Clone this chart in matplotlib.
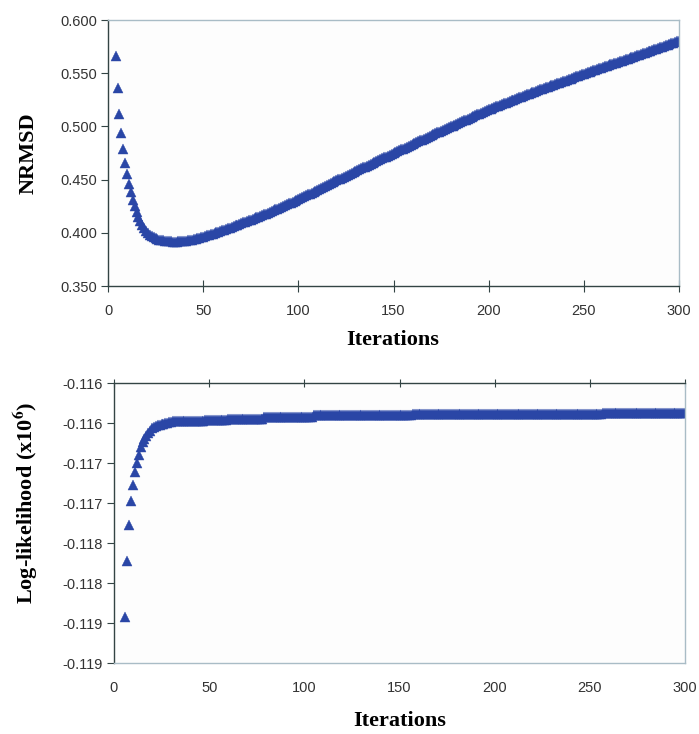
import matplotlib
matplotlib.use('Agg')
import matplotlib.pyplot as plt

# NRMSD per iteration (iterations 4..300)
nrmsd_iter = list(range(4, 301))
nrmsd = [
    0.5660, 0.5360, 0.5120, 0.4940, 0.4785, 0.4660, 0.4550, 0.4460, 0.4380, 0.4310,
    0.4250, 0.4195, 0.4150, 0.4110, 0.4075, 0.4045, 0.4020, 0.4000, 0.3983, 0.3970,
    0.3959, 0.3950, 0.3943, 0.3937, 0.3932, 0.3928, 0.3925, 0.3922, 0.3920, 0.3919,
    0.3918, 0.3918, 0.3918, 0.3919, 0.3920, 0.3922, 0.3924, 0.3927, 0.3930, 0.3933,
    0.3937, 0.3941, 0.3945, 0.3950, 0.3955, 0.3960, 0.3965, 0.3970, 0.3975, 0.3981,
    0.3987, 0.3993, 0.3999, 0.4005, 0.4011, 0.4017, 0.4023, 0.4029, 0.4035, 0.4041,
    0.4048, 0.4055, 0.4062, 0.4069, 0.4076, 0.4083, 0.4090, 0.4097, 0.4104, 0.4111,
    0.4118, 0.4125, 0.4132, 0.4139, 0.4146, 0.4153, 0.4160, 0.4167, 0.4174, 0.4181,
    0.4189, 0.4197, 0.4205, 0.4213, 0.4220, 0.4228, 0.4236, 0.4244, 0.4252, 0.4260,
    0.4268, 0.4276, 0.4284, 0.4292, 0.4300, 0.4308, 0.4316, 0.4325, 0.4334, 0.4343,
    0.4351, 0.4360, 0.4369, 0.4378, 0.4387, 0.4396, 0.4404, 0.4413, 0.4422, 0.4431,
    0.4440, 0.4449, 0.4457, 0.4466, 0.4475, 0.4484, 0.4493, 0.4502, 0.4510, 0.4519,
    0.4528, 0.4537, 0.4546, 0.4555, 0.4563, 0.4572, 0.4580, 0.4589, 0.4597, 0.4606,
    0.4614, 0.4623, 0.4631, 0.4640, 0.4648, 0.4657, 0.4665, 0.4674, 0.4682, 0.4691,
    0.4699, 0.4708, 0.4716, 0.4725, 0.4733, 0.4742, 0.4750, 0.4758, 0.4767, 0.4775,
    0.4784, 0.4792, 0.4800, 0.4809, 0.4817, 0.4826, 0.4834, 0.4842, 0.4851, 0.4859,
    0.4868, 0.4876, 0.4884, 0.4893, 0.4901, 0.4910, 0.4918, 0.4926, 0.4935, 0.4943,
    0.4952, 0.4960, 0.4968, 0.4976, 0.4984, 0.4992, 0.5000, 0.5008, 0.5016, 0.5024,
    0.5032, 0.5040, 0.5048, 0.5056, 0.5064, 0.5072, 0.5080, 0.5088, 0.5096, 0.5104,
    0.5112, 0.5120, 0.5128, 0.5136, 0.5144, 0.5152, 0.5160, 0.5167, 0.5174, 0.5181,
    0.5188, 0.5195, 0.5202, 0.5209, 0.5216, 0.5223, 0.5230, 0.5237, 0.5244, 0.5251,
    0.5258, 0.5265, 0.5272, 0.5279, 0.5286, 0.5293, 0.5300, 0.5307, 0.5314, 0.5321,
    0.5328, 0.5335, 0.5341, 0.5348, 0.5354, 0.5361, 0.5367, 0.5373, 0.5380, 0.5386,
    0.5393, 0.5399, 0.5405, 0.5412, 0.5418, 0.5425, 0.5431, 0.5437, 0.5444, 0.5450,
    0.5457, 0.5463, 0.5469, 0.5476, 0.5482, 0.5489, 0.5495, 0.5501, 0.5507, 0.5514,
    0.5520, 0.5526, 0.5532, 0.5538, 0.5545, 0.5551, 0.5557, 0.5563, 0.5569, 0.5576,
    0.5582, 0.5588, 0.5594, 0.5600, 0.5607, 0.5613, 0.5619, 0.5625, 0.5631, 0.5638,
    0.5644, 0.5650, 0.5656, 0.5662, 0.5669, 0.5675, 0.5681, 0.5687, 0.5694, 0.5700,
    0.5706, 0.5712, 0.5718, 0.5725, 0.5731, 0.5737, 0.5743, 0.5750, 0.5756, 0.5762,
    0.5768, 0.5774, 0.5781, 0.5787, 0.5793, 0.5799, 0.5806,
]

# log-likelihood (x10^6) per iteration (iterations 6..300)
ll_iter = list(range(6, 301))
loglik = [
    -0.11842, -0.11772, -0.11728, -0.11698, -0.11678, -0.11661, -0.11650, -0.11640, -0.11630, -0.11624,
    -0.11620, -0.11616, -0.11613, -0.11610, -0.11606, -0.11605, -0.11604, -0.11603, -0.11602, -0.11601,
    -0.11601, -0.11600, -0.11600, -0.11599, -0.11599, -0.11598, -0.11598, -0.11598, -0.11598, -0.11598,
    -0.11598, -0.11598, -0.11598, -0.11597, -0.11597, -0.11597, -0.11597, -0.11597, -0.11597, -0.11597,
    -0.11597, -0.11597, -0.11596, -0.11596, -0.11596, -0.11596, -0.11596, -0.11596, -0.11596, -0.11596,
    -0.11596, -0.11596, -0.11596, -0.11596, -0.11595, -0.11595, -0.11595, -0.11595, -0.11595, -0.11595,
    -0.11595, -0.11595, -0.11595, -0.11595, -0.11595, -0.11595, -0.11595, -0.11595, -0.11595, -0.11595,
    -0.11595, -0.11595, -0.11595, -0.11592, -0.11592, -0.11592, -0.11592, -0.11592, -0.11592, -0.11592,
    -0.11592, -0.11592, -0.11592, -0.11592, -0.11592, -0.11592, -0.11592, -0.11592, -0.11592, -0.11592,
    -0.11592, -0.11592, -0.11592, -0.11592, -0.11592, -0.11592, -0.11592, -0.11592, -0.11592, -0.11590,
    -0.11590, -0.11590, -0.11590, -0.11590, -0.11590, -0.11590, -0.11590, -0.11590, -0.11590, -0.11590,
    -0.11590, -0.11590, -0.11590, -0.11590, -0.11590, -0.11590, -0.11590, -0.11590, -0.11590, -0.11590,
    -0.11590, -0.11590, -0.11590, -0.11590, -0.11590, -0.11590, -0.11590, -0.11590, -0.11590, -0.11590,
    -0.11590, -0.11590, -0.11590, -0.11590, -0.11590, -0.11590, -0.11590, -0.11590, -0.11590, -0.11590,
    -0.11590, -0.11590, -0.11590, -0.11590, -0.11590, -0.11590, -0.11590, -0.11590, -0.11590, -0.11590,
    -0.11590, -0.11589, -0.11589, -0.11589, -0.11589, -0.11589, -0.11589, -0.11589, -0.11589, -0.11589,
    -0.11589, -0.11589, -0.11589, -0.11589, -0.11589, -0.11589, -0.11589, -0.11589, -0.11589, -0.11589,
    -0.11589, -0.11589, -0.11589, -0.11589, -0.11589, -0.11589, -0.11589, -0.11589, -0.11589, -0.11589,
    -0.11589, -0.11589, -0.11589, -0.11589, -0.11589, -0.11589, -0.11589, -0.11589, -0.11589, -0.11589,
    -0.11589, -0.11589, -0.11589, -0.11589, -0.11589, -0.11589, -0.11589, -0.11589, -0.11589, -0.11589,
    -0.11589, -0.11589, -0.11589, -0.11589, -0.11589, -0.11589, -0.11589, -0.11589, -0.11589, -0.11589,
    -0.11589, -0.11589, -0.11589, -0.11589, -0.11589, -0.11589, -0.11589, -0.11589, -0.11589, -0.11589,
    -0.11589, -0.11589, -0.11589, -0.11589, -0.11589, -0.11589, -0.11589, -0.11589, -0.11589, -0.11589,
    -0.11589, -0.11589, -0.11589, -0.11589, -0.11589, -0.11589, -0.11589, -0.11589, -0.11589, -0.11589,
    -0.11589, -0.11589, -0.11589, -0.11589, -0.11589, -0.11589, -0.11589, -0.11589, -0.11589, -0.11589,
    -0.11589, -0.11587, -0.11587, -0.11587, -0.11587, -0.11587, -0.11587, -0.11587, -0.11587, -0.11587,
    -0.11587, -0.11587, -0.11587, -0.11587, -0.11587, -0.11587, -0.11587, -0.11587, -0.11587, -0.11587,
    -0.11587, -0.11587, -0.11587, -0.11587, -0.11587, -0.11587, -0.11587, -0.11587, -0.11587, -0.11587,
    -0.11587, -0.11587, -0.11587, -0.11587, -0.11587, -0.11587, -0.11587, -0.11587, -0.11587, -0.11587,
    -0.11587, -0.11587, -0.11587, -0.11587, -0.11587,
]

x_ticks = [0, 50, 100, 150, 200, 250, 300]
nrmsd_ticks = [0.350, 0.400, 0.450, 0.500, 0.550, 0.600]
ll_ticks = [-0.1190, -0.1185, -0.1180, -0.1175, -0.1170, -0.1165, -0.1160, -0.1155]
ll_tick_labels = ['-0.119', '-0.119', '-0.118', '-0.118', '-0.117', '-0.117', '-0.116', '-0.116']

marker_color = '#2a46a6'
dark = '#334444'
light = '#a9bcc6'
tick_font = {'family': 'Liberation Sans', 'size': 10.5}
label_font = {'family': 'Liberation Serif', 'weight': 'bold', 'size': 16}

plt.rcParams['mathtext.fontset'] = 'stix'

fig = plt.figure(figsize=(6.99, 7.34), dpi=100)
fig.patch.set_facecolor('white')

# top panel
ax1 = fig.add_axes([108 / 699, 1 - 286 / 734, 571 / 699, 266 / 734])
ax1.set_facecolor('#fdfdfd')
ax1.plot(nrmsd_iter, nrmsd, linestyle='none', marker='^', markersize=7.5,
         color=marker_color, markeredgewidth=0.3, markeredgecolor=marker_color)
ax1.set_xlim(0, 300)
ax1.set_ylim(0.35, 0.60)
ax1.set_xticks(x_ticks)
ax1.set_yticks(nrmsd_ticks)
ax1.set_yticklabels(['{:.3f}'.format(v) for v in nrmsd_ticks], fontdict=tick_font)
ax1.set_xticklabels([str(v) for v in x_ticks], fontdict=tick_font)
ax1.tick_params(axis='x', direction='inout', length=8, pad=9, colors='#333333')
ax1.tick_params(axis='y', direction='out', length=5, pad=3, colors='#333333')
for s in ['left', 'bottom']:
    ax1.spines[s].set_color(dark)
    ax1.spines[s].set_linewidth(1.0)
for s in ['top', 'right']:
    ax1.spines[s].set_color(light)
    ax1.spines[s].set_linewidth(1.0)
ax1.tick_params(axis='both', color=dark)

# bottom panel
ax2 = fig.add_axes([114 / 699, 1 - 663 / 734, 571 / 699, 280 / 734])
ax2.set_facecolor('#fdfdfd')
ax2.plot(ll_iter, loglik, linestyle='none', marker='^', markersize=7.5,
         color=marker_color, markeredgewidth=0.3, markeredgecolor=marker_color)
ax2.set_xlim(0, 300)
ax2.set_ylim(-0.1190, -0.1155)
ax2.set_xticks(x_ticks)
ax2.set_xticklabels([str(v) for v in x_ticks], fontdict=tick_font)
ax2.set_yticks(ll_ticks)
ax2.set_yticklabels(ll_tick_labels, fontdict=tick_font)
ax2.tick_params(axis='x', top=True, bottom=False, labelbottom=True, labeltop=False,
                direction='inout', length=6, pad=10, colors='#333333')
ax2.tick_params(axis='y', direction='out', length=5, pad=3, colors='#333333')
for s in ['left', 'top']:
    ax2.spines[s].set_color(dark)
    ax2.spines[s].set_linewidth(1.0)
for s in ['bottom', 'right']:
    ax2.spines[s].set_color(light)
    ax2.spines[s].set_linewidth(1.0)
ax2.tick_params(axis='both', color=dark)

# axis titles
fig.text(29 / 699, 1 - 153 / 734, 'NRMSD', rotation=90, ha='center', va='center',
         fontdict=label_font)
fig.text(393 / 699, 1 - 340 / 734, 'Iterations', ha='center', va='center',
         fontdict=label_font)
fig.text(26 / 699, 1 - 503 / 734, r'Log-likelihood (x10$^{\mathbf{6}}$)', rotation=90,
         ha='center', va='center', fontdict=label_font)
fig.text(400 / 699, 1 - 721 / 734, 'Iterations', ha='center', va='center',
         fontdict=label_font)

plt.savefig('out.png', dpi=100)
